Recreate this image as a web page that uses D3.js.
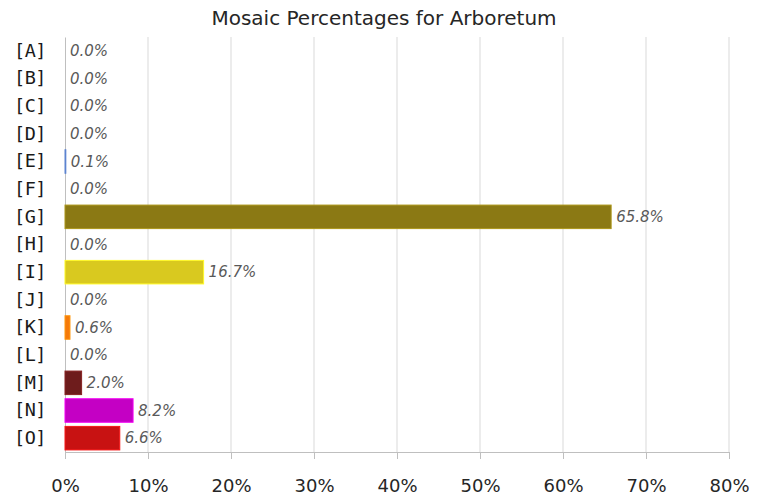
<!DOCTYPE html>
<html>
<head>
<meta charset="utf-8">
<script src="https://cdn.jsdelivr.net/npm/d3@7"></script>
<style>
    body { margin: 0; background: #fff; }
    svg { display: block; }
</style>
</head>
<body>
<div id="chart"></div>
<script>
// Chart data
var categories = ['[A]', '[B]', '[C]', '[D]', '[E]', '[F]', '[G]', '[H]',
    '[I]', '[J]', '[K]', '[L]', '[M]', '[N]', '[O]'];
var percentages = [0.0, 0.0, 0.0, 0.0, 0.1, 0.0, 65.8, 0.0,
    16.7, 0.0, 0.6, 0.0, 2.0, 8.2, 6.6];
var barColors = ['#7f7f7f', '#7f7f7f', '#7f7f7f', '#7f7f7f', '#4a6aa8', '#7f7f7f',
    '#8b7914', '#7f7f7f', '#d9c91f', '#7f7f7f', '#f57a0a', '#7f7f7f',
    '#6e1c1c', '#c400c4', '#c81212'];
var xTicks = [0, 10, 20, 30, 40, 50, 60, 70, 80];
var title = 'Mosaic Percentages for Arboretum';

var width = 765,
    height = 500,
    margin = {top: 37, right: 36, bottom: 48, left: 65};

var svg = d3.select('#chart').append('svg')
    .attr('width', width)
    .attr('height', height);

var x = d3.scaleLinear()
    .domain([0, 80])
    .range([margin.left, width - margin.right]);

var y = d3.scaleBand()
    .domain(categories)
    .range([margin.top, height - margin.bottom])
    .paddingInner(0.15)
    .paddingOuter(0.075);

// title
svg.append('text')
    .attr('x', 384)
    .attr('y', 25)
    .attr('text-anchor', 'middle')
    .style('font-family', '"DejaVu Sans", sans-serif')
    .style('font-size', '20px')
    .style('fill', '#262626')
    .text(title);

// vertical gridlines
svg.append('g')
    .selectAll('line')
    .data(xTicks.slice(1))
    .enter().append('line')
        .attr('x1', function(d) { return x(d); })
        .attr('x2', function(d) { return x(d); })
        .attr('y1', margin.top)
        .attr('y2', height - margin.bottom)
        .style('stroke', '#d9d9d9')
        .style('stroke-width', 1);

// bottom axis
var xAxis = d3.axisBottom(x)
    .tickValues(xTicks)
    .tickSize(7)
    .tickPadding(20)
    .tickFormat(function(d) { return d + '%'; });

var gx = svg.append('g')
    .attr('transform', 'translate(0,' + (height - margin.bottom) + ')')
    .call(xAxis);
gx.select('.domain').style('stroke', '#bfbfbf');
gx.selectAll('.tick line').style('stroke', '#bfbfbf');
gx.selectAll('.tick text')
    .style('font-family', '"DejaVu Sans", sans-serif')
    .style('font-size', '18px')
    .style('fill', '#262626');

// left axis
var yAxis = d3.axisLeft(y)
    .tickSize(0)
    .tickPadding(19);

var gy = svg.append('g')
    .attr('transform', 'translate(' + margin.left + ',0)')
    .call(yAxis);
gy.select('.domain').style('stroke', '#bfbfbf');
gy.selectAll('.tick text')
    .style('font-family', '"DejaVu Sans Mono", monospace')
    .style('font-size', '18.5px')
    .style('letter-spacing', '-0.5px')
    .style('fill', '#1a1a1a');

// bars
var rows = categories.map(function(c, i) {
    return {name: c, value: percentages[i], color: barColors[i]};
});

svg.append('g')
    .selectAll('rect')
    .data(rows.filter(function(d) { return d.value > 0; }))
    .enter().append('rect')
        .attr('x', x(0))
        .attr('y', function(d) { return y(d.name); })
        .attr('width', function(d) { return x(d.value) - x(0); })
        .attr('height', y.bandwidth())
        .style('fill', function(d) { return d.color; })
        .style('stroke', function(d) { return d3.color(d.color).brighter(0.6); })
        .style('stroke-width', 1);

// value labels
svg.append('g')
    .selectAll('text')
    .data(rows)
    .enter().append('text')
        .attr('x', function(d) { return x(d.value) + 5; })
        .attr('y', function(d) { return y(d.name) + y.bandwidth() / 2; })
        .attr('dy', '0.35em')
        .style('font-family', '"DejaVu Sans", sans-serif')
        .style('font-style', 'italic')
        .style('font-size', '15px')
        .style('fill', '#595959')
        .text(function(d) { return d.value.toFixed(1) + '%'; });
</script>
</body>
</html>
